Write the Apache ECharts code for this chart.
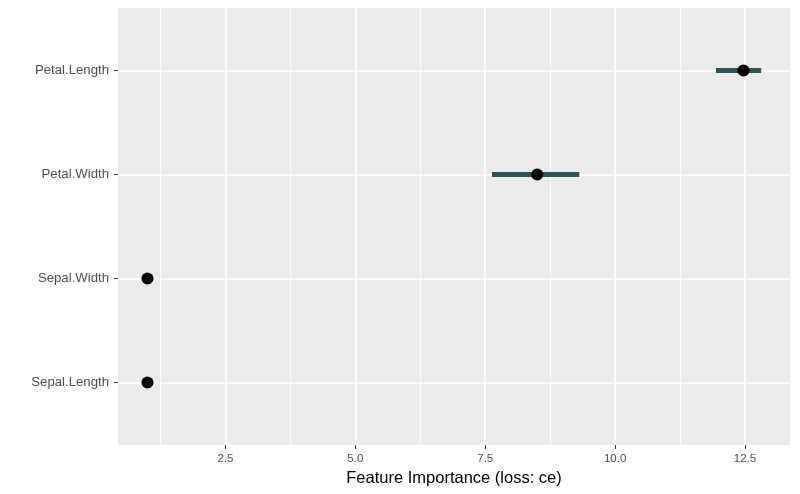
<!DOCTYPE html>
<html>
<head>
<meta charset="utf-8">
<script src="https://cdn.jsdelivr.net/npm/echarts@6/dist/echarts.min.js"></script>
<style>
  html, body { margin: 0; padding: 0; background: #fff; }
  #chart { width: 800px; height: 494px; }
</style>
</head>
<body>
<div id="chart"></div>
<script>
// bottom to top
const features = ['Sepal.Length', 'Sepal.Width', 'Petal.Width', 'Petal.Length']
const importance = [1.0, 1.0, 8.5, 12.47]
const lower = [1.0, 1.0, 7.63, 11.94]
const upper = [1.0, 1.0, 9.31, 12.81]
const xTicks = [2.5, 5.0, 7.5, 10.0, 12.5]
const xMinor = [1.25, 3.75, 6.25, 8.75, 11.25]

const chart = echarts.init(document.getElementById('chart'))
const font = 'Liberation Sans, Arial, sans-serif'

const yIdx = features.map((f, i) => i)

chart.setOption({
  backgroundColor: '#fff',
  animation: false,
  grid: {
    left: 118,
    right: 10,
    top: 8,
    bottom: 49,
    show: true,
    backgroundColor: '#EBEBEB',
    borderWidth: 0
  },
  xAxis: {
    type: 'value',
    min: 0.433,
    max: 13.365,
    axisLine: { show: false, onZero: false },
    axisTick: {
      customValues: xTicks,
      length: 4,
      lineStyle: { color: '#333', width: 1 }
    },
    axisLabel: {
      customValues: xTicks,
      formatter: v => v.toFixed(1),
      color: '#4D4D4D',
      fontSize: 11.5,
      fontFamily: font,
      margin: 8
    },
    splitLine: { show: true, lineStyle: { color: '#fff', width: 1.6 } },
    name: 'Feature Importance (loss: ce)',
    nameLocation: 'middle',
    nameGap: 23,
    nameTextStyle: { color: '#000', fontSize: 16.5, fontFamily: font }
  },
  yAxis: {
    type: 'value',
    min: -0.6,
    max: 3.6,
    axisLine: { show: false, onZero: false },
    axisTick: {
      customValues: yIdx,
      length: 4,
      lineStyle: { color: '#333', width: 1 }
    },
    axisLabel: {
      customValues: yIdx,
      formatter: v => features[Math.round(v)],
      color: '#4D4D4D',
      fontSize: 13.2,
      fontFamily: font,
      margin: 9
    },
    splitLine: { show: true, lineStyle: { color: '#fff', width: 1.6 } }
  },
  series: [
    {
      type: 'custom',
      z: 2,
      silent: true,
      data: features.map((f, i) => [lower[i], upper[i], i]),
      renderItem(params, api) {
        const lo = api.coord([api.value(0), api.value(2)])
        const hi = api.coord([api.value(1), api.value(2)])
        if (hi[0] - lo[0] < 0.5) return null
        return {
          type: 'line',
          shape: { x1: lo[0], y1: lo[1], x2: hi[0], y2: hi[1] },
          style: { stroke: '#365353', lineWidth: 5 }
        }
      },
      markLine: {
        silent: true,
        z: 1,
        symbol: 'none',
        label: { show: false },
        lineStyle: { color: '#fff', width: 0.8, type: 'solid' },
        data: xMinor.map(v => ({ xAxis: v }))
      }
    },
    {
      type: 'scatter',
      z: 3,
      silent: true,
      symbol: 'circle',
      symbolSize: 12,
      itemStyle: { color: '#000', opacity: 1 },
      data: importance.map((v, i) => [v, i])
    }
  ]
})
</script>
</body>
</html>
